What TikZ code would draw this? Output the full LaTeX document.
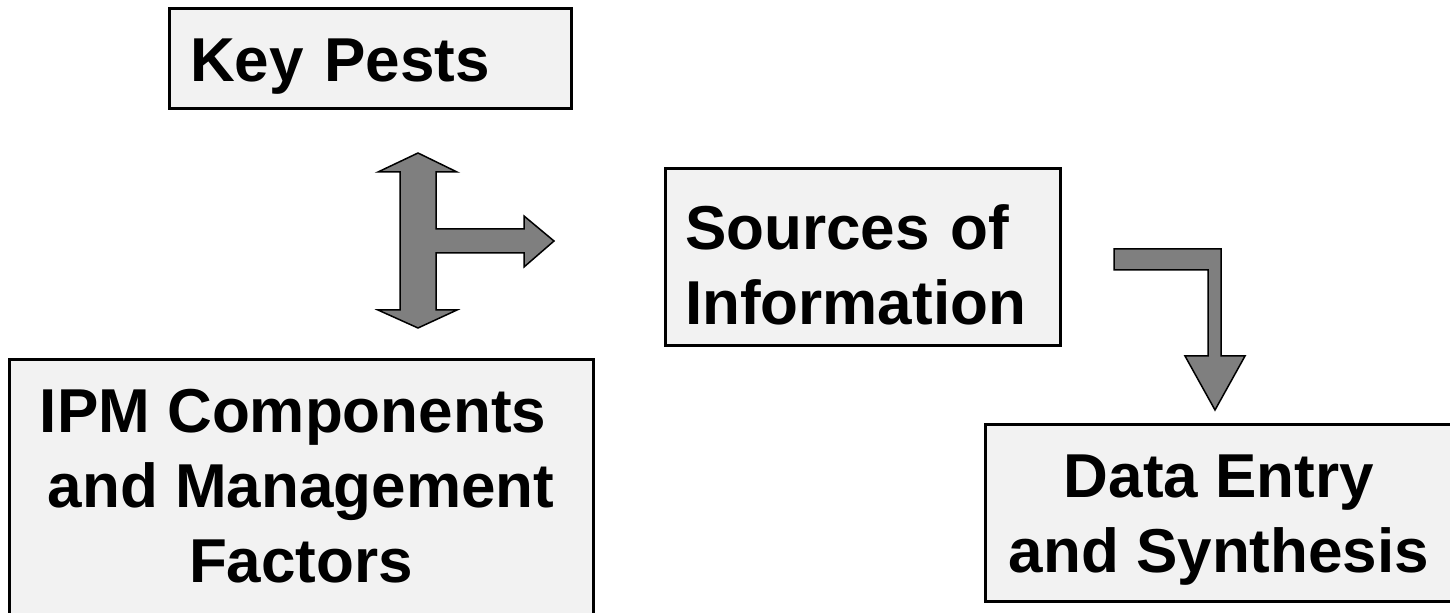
\documentclass[tikz,border=0pt]{standalone}
\usepackage{fontspec}
\setmainfont{Liberation Sans}
\definecolor{boxgray}{HTML}{F2F2F2}
\definecolor{arrowgray}{HTML}{7F7F7F}

\begin{document}
\begin{tikzpicture}[x=0.5pt, y=-0.5pt,
    infobox/.style={draw=black, line width=1.5pt, fill=boxgray, inner sep=0pt,
      font=\fontsize{31}{37.5}\selectfont\bfseries},
    blockarrow/.style={draw=black, line width=0.75pt, fill=arrowgray, line join=miter}]
          \clip (0,0) rectangle (1450,613);
          \node[infobox, minimum width=201pt, minimum height=50pt, text width=180pt, align=left,
                text height=23pt, text depth=0pt] (keypests) at (370,59) {Key Pests};
          \node[infobox, minimum width=197.5pt, minimum height=88.5pt, text width=177.5pt, align=left,
                text height=30pt, text depth=37.5pt] (sources) at (862.5,257.5) {Sources of\\Information};
          \node[infobox, minimum width=292pt, minimum height=130pt, align=center,
                text height=93pt, text depth=0pt] (ipm) at (301,490) {IPM Components\kern8pt\\and Management\\Factors};
          \node[infobox, minimum width=234pt, minimum height=88.5pt, align=center,
                text height=59.5pt, text depth=0pt] (dataentry) at (1219,513.5) {Data Entry\\and Synthesis};
          % branching arrow between the pests and the components
          \draw[blockarrow] (418,153) -- (457,172) -- (436,172) -- (436,229) -- (524,229) -- (524,216)
                -- (554,241) -- (524,267) -- (524,253) -- (436,253) -- (436,310) -- (457,310)
                -- (418,328) -- (378,310) -- (400,310) -- (400,172) -- (378,172) -- cycle;
          % bent arrow down to data entry
          \draw[blockarrow] (1114,249) -- (1221,249) -- (1221,356) -- (1245,356) -- (1215,410)
                -- (1185,356) -- (1208,356) -- (1208,270) -- (1114,270) -- cycle;
      \end{tikzpicture}
\end{document}
